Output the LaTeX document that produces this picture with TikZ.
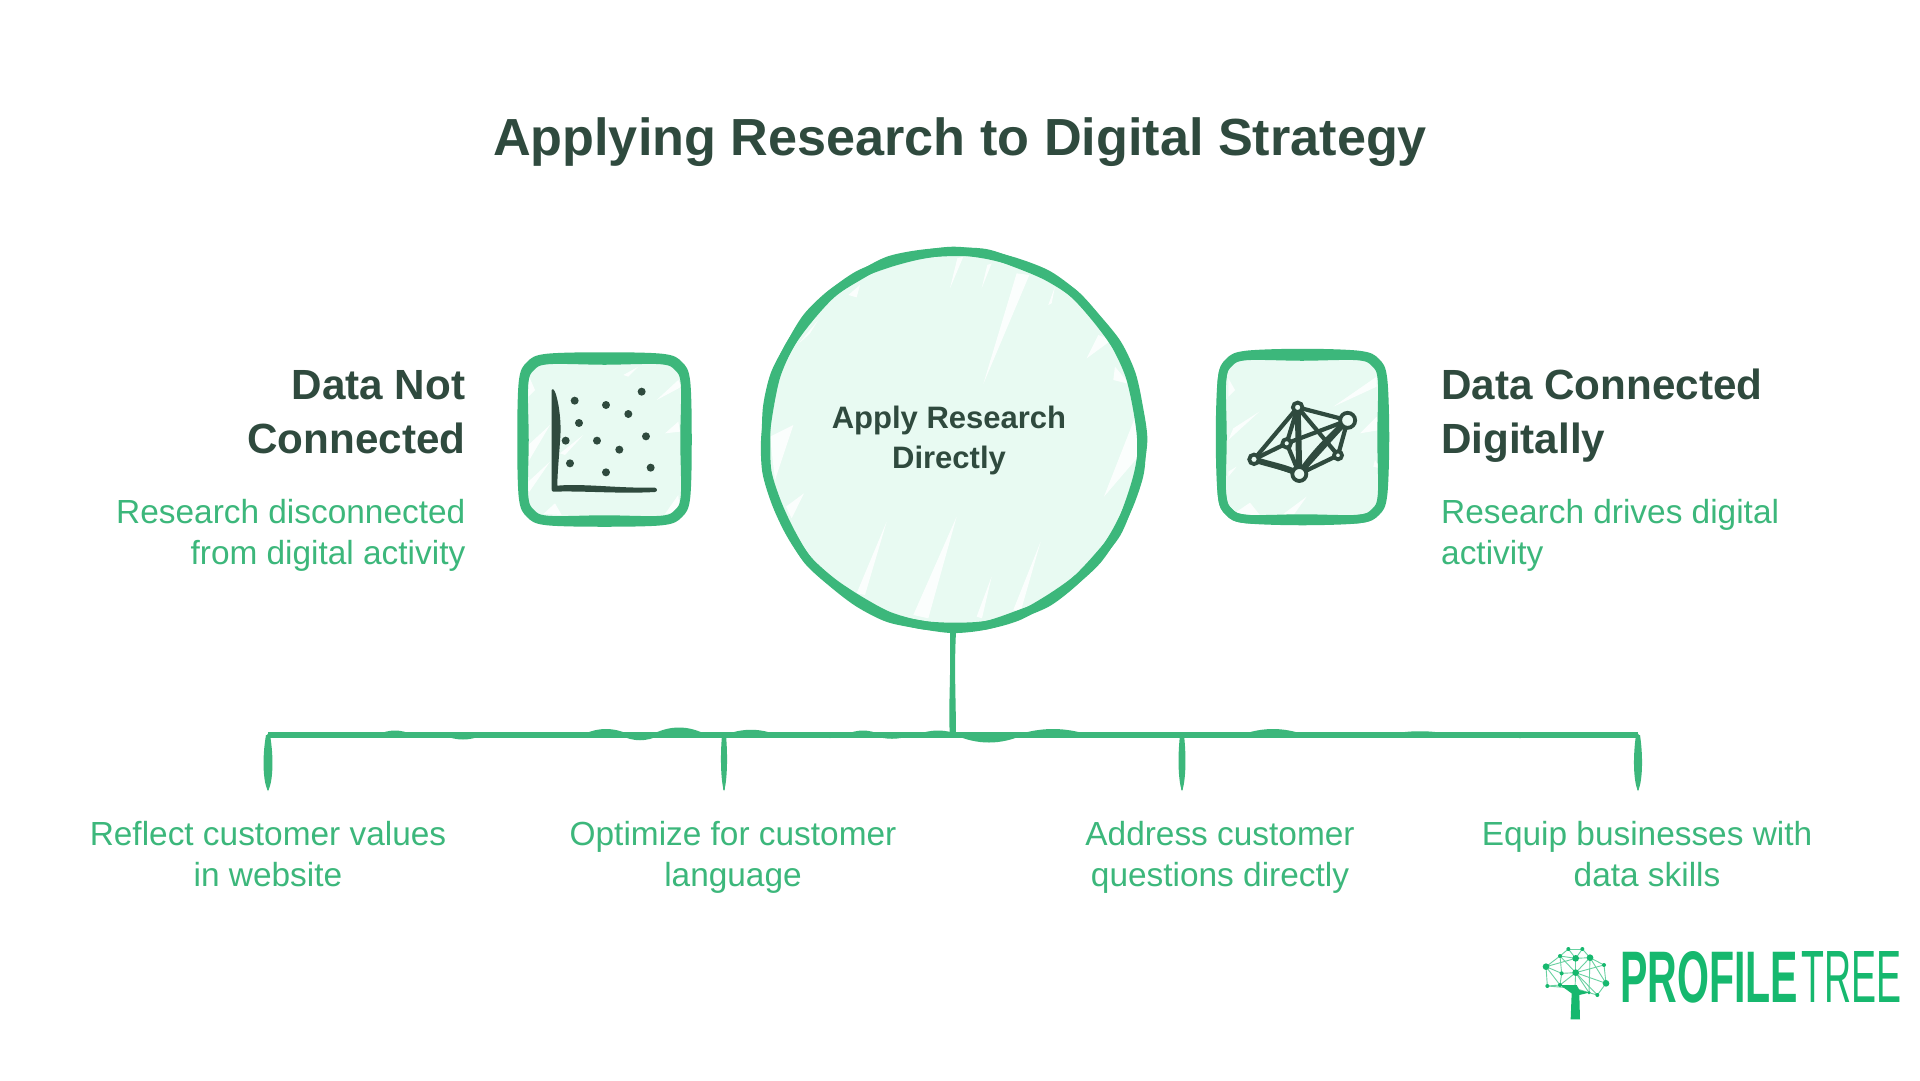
\documentclass[tikz,border=0pt]{standalone}
\usepackage{fontspec}
\setmainfont{Liberation Sans}
\definecolor{brandgreen}{HTML}{3CB77B}
\definecolor{paper}{HTML}{E8FAF2}
\definecolor{ink}{HTML}{2F4A3E}
\definecolor{leaf}{HTML}{16B86E}
\newcommand{\pxfont}[2]{\fontsize{#1pt}{#2pt}\selectfont}
\newcommand{\sketchsq}[4]{%
 \fill[paper] (#1+4,#2+4) rectangle (#3-4,#4-4);
}
\newcommand{\sqpath}[5]{%
 \pgfmathsetmacro{\mx}{(#1+#3)/2}\pgfmathsetmacro{\my}{(#2+#4)/2}%
 \draw[outline] plot[smooth cycle,tension=.55] coordinates {
  (#1+24,#2) (\mx,#2-#5) (#3-24,#2) (#3-7,#2+7) (#3,#2+24) (#3+#5,\my) (#3,#4-24) (#3-7,#4-7)
  (#3-24,#4) (\mx,#4+#5) (#1+24,#4) (#1+7,#4-7) (#1,#4-24) (#1-#5,\my) (#1,#2+24) (#1+7,#2+7)};
}
\newcommand{\bump}[3]{\fill[brandgreen] (#1-#2,735) .. controls (#1-#2/3,735+#3*2) and (#1+#2/3,735+#3*2) .. (#1+#2,735) -- cycle;}
\newcommand{\drop}[2]{\fill[brandgreen] (#1-2,735) .. controls (#1-#2,758) and (#1-#2+1,782) .. (#1,791) .. controls (#1+#2-1,782) and (#1+#2,758) .. (#1+2,735) -- cycle;}
\tikzset{
 outline/.style={draw=brandgreen,line width=8.5pt,line join=round},
 wire/.style={draw=brandgreen,line width=3.6pt,line cap=round},
 streak/.style={white,opacity=.85},
 heading/.style={text=ink,font=\bfseries\pxfont{42.2}{54},inner sep=0pt},
 note/.style={text=brandgreen,font=\pxfont{33.4}{40.5},inner sep=0pt},
 hub/.style={circle,minimum size=375pt,inner sep=0pt},
 tile/.style={minimum width=170pt,minimum height=170pt,inner sep=0pt},
 mesh/.style={draw=ink,line width=4.2pt,line cap=round},
 meshnode/.style={circle,draw=ink,fill=paper,line width=3.8pt,inner sep=0pt},
 twig/.style={draw=leaf!65,line width=.9pt},
}
\begin{document}
\begin{tikzpicture}[x=1pt,y=-1pt]
\useasboundingbox (0,0) rectangle (1920,1080);
\fill[white] (0,0) rectangle (1920,1080);

\node[anchor=base,text=ink,font=\bfseries\pxfont{52.2}{60},inner sep=0pt] (title) at (960,155) {Applying Research to Digital Strategy};

% ---------- hub circle
\fill[paper] (953,439) circle (186);
\begin{scope}[shift={(750,240)},x=.3333pt,y=-.3333pt]
 \fill[streak] (838,105)--(800,100)--(700,432)--cycle;
 \fill[streak] (640,50)--(622,55)--(600,145)--cycle;
 \fill[streak] (725,70)--(712,75)--(695,145)--cycle;
 \fill[streak] (620,830)--(490,1125)--(535,1135)--cycle;
 \fill[streak] (410,845)--(320,1060)--(345,1065)--cycle;
 \fill[streak] (872,905)--(790,1110)--(812,1115)--cycle;
 \fill[streak] (725,1010)--(680,1130)--(696,1135)--cycle;
 \fill[streak] (1160,520)--(1062,770)--(1165,650)--cycle;
 \fill[streak] (130,555)--(75,720)--(60,590)--cycle;
 \fill[streak] (162,760)--(125,835)--(108,800)--cycle;
 \fill[streak] (1045,285)--(1010,355)--(1085,300)--cycle;
 \fill[streak] (330,135)--(295,165)--(320,172)--cycle;
 \fill[streak] (205,240)--(145,312)--(180,280)--cycle;
 \fill[streak] (1095,380)--(1090,420)--(1138,432)--cycle;
 \fill[streak] (915,140)--(895,195)--(905,190)--cycle;
\end{scope}
\draw[outline] plot[smooth cycle,domain=0:350,samples=36]
 ({953+(188+0.9*sin(5*\x+20)+0.9*sin(11*\x))*cos(\x)},{439+(188+0.9*sin(5*\x+20)+0.9*sin(11*\x))*sin(\x)});
\draw[outline] plot[smooth cycle,domain=0:350,samples=36]
 ({953+(188.5+1.0*sin(3*\x+140)+1.1*sin(13*\x+60))*cos(\x)},{439+(188.5+1.0*sin(3*\x+140)+1.1*sin(13*\x+60))*sin(\x)});
\node[hub] (core) at (953,439) {};
\node[text=ink,align=center,font=\bfseries\pxfont{31}{40},inner sep=0pt] (corelabel) at (949,440) {\strut Apply Research\\\strut Directly};

% ---------- left tile
\node[tile] (lefttile) at (604.5,439.5) {};
\sketchsq{523}{358}{686}{521}
\begin{scope}[shift={(500,340)},x=.3333pt,y=-.3333pt]
 \fill[streak] (85,105)--(105,150)--(85,170)--cycle;
 \fill[streak] (415,80)--(370,105)--(385,110)--cycle;
 \fill[streak] (535,120)--(470,180)--(545,140)--cycle;
 \fill[streak] (150,255)--(85,315)--(85,365)--cycle;
 \fill[streak] (250,285)--(180,340)--(195,345)--cycle;
 \fill[streak] (535,245)--(495,280)--(540,275)--cycle;
 \fill[streak] (150,365)--(85,425)--(85,460)--cycle;
 \fill[streak] (165,490)--(130,522)--(185,525)--cycle;
 \fill[streak] (535,465)--(495,522)--(540,515)--cycle;
 \fill[ink] (155,150) .. controls (165,130) and (186,220) .. (181,290) .. controls (178,340) and (172,400) .. (172,437)
   .. controls (250,430) and (350,445) .. (465,443) .. controls (473,446) and (473,454) .. (465,456)
   .. controls (360,462) and (250,452) .. (160,455) .. controls (156,455) and (155,452) .. (155,448) -- cycle;
 \foreach \p/\q in {224/182,318/195,425/155,385/222,237/249,197/302,291/302,358/329,438/289,210/370,318/397,452/383}
  \fill[ink] (\p,\q) circle (12);
\end{scope}
\sqpath{523}{358}{686}{521}{1.5}
\sqpath{524}{360}{685}{520}{-0.5}

% ---------- right tile
\node[tile] (righttile) at (1302,436.5) {};
\sketchsq{1222}{355}{1383}{519}
\begin{scope}[shift={(1200,340)},x=.3333pt,y=-.3333pt]
 \fill[streak] (178,215)--(100,265)--(85,300)--cycle;
 \fill[streak] (530,110)--(400,200)--(530,140)--cycle;
 \fill[streak] (150,488)--(100,522)--(180,526)--cycle;
 \fill[streak] (320,470)--(250,522)--(280,526)--cycle;
 \fill[streak] (85,115)--(105,150)--(85,170)--cycle;
 \fill[streak] (530,230)--(480,280)--(540,270)--cycle;
 \fill[streak] (525,360)--(520,380)--(540,385)--cycle;
 \fill[streak] (110,380)--(85,395)--(85,410)--cycle;
 \coordinate (na) at (293,202);
 \coordinate (nb) at (443,241);
 \coordinate (nc) at (260,310);
 \coordinate (nd) at (414,346);
 \coordinate (ne) at (162,358);
 \coordinate (nf) at (298,402);
 \foreach \s/\t in {na/nb,na/ne,na/nc,na/nf,nc/ne,nc/nf,nc/nb,ne/nf,nf/nd,nf/nb,nb/nd,na/nd}
  \draw[mesh] (\s) -- (\t);
 \draw[mesh,line width=6pt] (na) -- (nf);
 \draw[mesh,line width=6pt] (ne) .. controls (210,375) and (255,380) .. (nf);
 \draw[mesh,line width=6pt] (nf) .. controls (340,340) and (390,290) .. (nb);
\end{scope}
\node[meshnode,minimum size=9.5pt] (ma) at (na) {};
\node[meshnode,minimum size=15pt] (mb) at (nb) {};
\node[meshnode,minimum size=8.5pt] (mc) at (nc) {};
\node[meshnode,minimum size=8pt] (md) at (nd) {};
\node[meshnode,minimum size=9.5pt] (me) at (ne) {};
\node[meshnode,minimum size=14pt] (mf) at (nf) {};
\sqpath{1222}{355}{1383}{519}{2}
\sqpath{1222}{356}{1382}{519}{-0.5}

% ---------- side texts
\node[heading,align=right,anchor=east] (lefthead) at (465.5,416) {\strut Data Not\\\strut Connected};
\node[note,align=right,anchor=east] (leftnote) at (465.5,536) {\strut Research disconnected\\\strut from digital activity};
\node[heading,align=left,anchor=west] (righthead) at (1441,416) {\strut Data Connected\\\strut Digitally};
\node[note,align=left,anchor=west] (rightnote) at (1441,536) {\strut Research drives digital\\\strut activity};

% ---------- connectors
\coordinate (trunk) at (953,735);
\coordinate (barleft) at (268,735);
\coordinate (barright) at (1638,735);
\coordinate (ja) at (724,735);
\coordinate (jb) at (1182,735);
\coordinate (ea) at (268,789);
\coordinate (eb) at (724,789);
\coordinate (ec) at (1182,789);
\coordinate (ed) at (1638,789);
\draw[wire,line width=3.4pt] (core.south) -- (trunk);
\draw[wire,line width=5.6pt,line cap=butt] (barleft) -- (barright);
\foreach \e/\j in {ea/barleft,eb/ja,ec/jb,ed/barright} \draw[wire,line width=2.6pt] (\j) -- (\e);
\drop{268}{6}\drop{724}{4}\drop{1182}{4.6}\drop{1638}{5.4}
\fill[brandgreen] (950,632) .. controls (951,680) and (948,710) .. (950,737) -- (956,737) .. controls (956,700) and (954,670) .. (956,632) -- cycle;
\bump{395}{18}{-3}\bump{463}{20}{3}\bump{606}{24}{-4}\bump{640}{20}{3.5}\bump{679}{28}{-5}
\bump{751}{26}{-3.5}\bump{830}{20}{2}\bump{863}{18}{-3}\bump{892}{20}{2.5}\bump{938}{22}{-3}
\bump{989}{34}{5}\bump{1053}{36}{-4}\bump{1130}{20}{-2}\bump{1273}{32}{-4}\bump{1420}{34}{-2.5}\bump{1520}{26}{2}

% ---------- bottom labels
\node[note,align=center] (la) at (268,858) {\strut Reflect customer values\\\strut in website};
\node[note,align=center] (lb) at (733,858) {\strut Optimize for customer\\\strut language};
\node[note,align=center] (lc) at (1220,858) {\strut Address customer\\\strut questions directly};
\node[note,align=center] (ld) at (1647,858) {\strut Equip businesses with\\\strut data skills};

% ---------- logo
\begin{scope}[shift={(1520,930)},x=.3333pt,y=-.3333pt]
 \foreach \n/\p/\q in {k1/78/110,k2/125/130,k3/167/128,k4/167/85,k5/210/83,k6/145/57,k7/187/57,k8/120/78,k9/252/105,k10/258/160,k11/232/195,k12/207/188,k13/120/165,k14/82/168,k15/165/175}{
  \coordinate (\n) at (\p,\q);
 }
 \foreach \s/\t in {k1/k2,k1/k8,k1/k13,k1/k14,k1/k4,k2/k3,k2/k8,k2/k13,k3/k4,k3/k5,k3/k15,k3/k13,k3/k12,k4/k5,k4/k6,k4/k7,k4/k8,k5/k7,k5/k9,k5/k10,k6/k7,k6/k8,k9/k10,k10/k11,k10/k3,k11/k12,k12/k15,k13/k14,k13/k15,k14/k15,k8/k3,k5/k12,k9/k3,k11/k3}
  \draw[twig] (\s) -- (\t);
 \fill[leaf] (170,165)--(150,165)--(120,165)--(155,190)--(152,268)--(180,268)--(178,195)--(207,188)--(178,180)--cycle;
 \foreach \p/\q/\r in {78/110/10,125/130/6,167/128/10,167/85/10,210/83/10,145/57/6,187/57/6,120/78/6,252/105/6,258/160/10,232/195/6,207/188/5,120/165/6,82/168/6}
  \fill[leaf] (\p,\q) circle (\r);
\end{scope}
\node[inner sep=0pt,text=leaf,anchor=north west] (logobold) at (1620,951) {\resizebox{178pt}{51pt}{\bfseries PROFILE}};
\node[inner sep=0pt,text=leaf,anchor=north west] (logolight) at (1801,951) {\resizebox{100pt}{51pt}{TREE}};
\end{tikzpicture}
\end{document}
